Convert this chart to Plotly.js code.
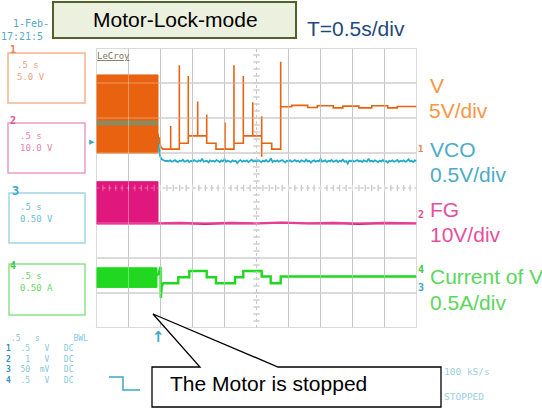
<!DOCTYPE html>
<html><head><meta charset="utf-8">
<script src="https://cdn.plot.ly/plotly-3.0.1.min.js"></script>
<style>html,body{margin:0;padding:0;background:#fff;}#chart{width:542px;height:412px;}</style>
</head><body><div id="chart"></div>
<script>
// Time in seconds (0.5 s/div), amplitude in screen divisions (-4..4)
// Channel 1 (V, orange): dense switching block before the stop
const vBlockT = [0, 0, 0.961, 0.961, 0];
const vBlockY = [1.0, 3.23, 3.23, 1.0, 1.0];
// VCO trace hidden under the orange block
const vcoBandT = [0, 0.958];
const vcoBandY = [1.86, 1.86];
// Channel 1 after the stop
const vT = [0.961,0.972,0.985,1.0,1.034,1.159,1.159,1.159,1.294,1.294,1.294,1.434,1.434,1.434,1.581,1.581,1.581,1.722,1.722,1.722,1.867,1.867,2.008,2.008,2.008,2.148,2.148,2.148,2.294,2.294,2.294,2.441,2.441,2.441,2.581,2.581,2.581,2.581,2.738,2.738,2.878,2.878,2.878,3.05,3.05,3.3,3.3,3.45,3.45,3.7,3.7,3.85,3.85,4.1,4.1,4.3,4.3,4.55,4.55,4.7,4.7,5.0];
const vY = [1.55,1.25,1.45,1.2,1.11,1.11,1.77,1.11,1.11,3.51,1.28,1.28,3.2,1.49,1.49,2.47,1.49,1.49,2.1,1.28,1.28,1.11,1.11,1.87,1.11,1.11,3.51,1.28,1.28,3.2,1.49,1.49,2.45,1.49,1.49,2.05,0.89,1.28,1.28,1.11,1.11,3.61,2.32,2.32,2.36,2.36,2.30,2.30,2.35,2.35,2.29,2.29,2.34,2.34,2.29,2.29,2.35,2.35,2.29,2.29,2.33,2.33];
// Channel 3 (VCO, cyan)
const vcoT = [0.958,0.968,0.978,0.99,1.0,1.02,1.05,1.075,
  1.100,1.125,1.150,1.175,1.200,1.225,1.250,1.275,1.300,1.325,1.350,1.375,1.400,1.425,1.450,1.475,1.500,1.525,1.550,1.575,
  1.600,1.625,1.650,1.675,1.700,1.725,1.750,1.775,1.800,1.825,1.850,1.875,1.900,1.925,1.950,1.975,2.000,2.025,2.050,2.075,
  2.100,2.125,2.150,2.175,2.200,2.225,2.250,2.275,2.300,2.325,2.350,2.375,2.400,2.425,2.450,2.475,2.500,2.525,2.550,2.575,
  2.600,2.625,2.650,2.675,2.700,2.725,2.750,2.775,2.800,2.825,2.850,2.875,2.900,2.925,2.950,2.975,3.000,3.025,3.050,3.075,
  3.100,3.125,3.150,3.175,3.200,3.225,3.250,3.275,3.300,3.325,3.350,3.375,3.400,3.425,3.450,3.475,3.500,3.525,3.550,3.575,
  3.600,3.625,3.650,3.675,3.700,3.725,3.750,3.775,3.800,3.825,3.850,3.875,3.900,3.925,3.950,3.975,4.000,4.025,4.050,4.075,
  4.100,4.125,4.150,4.175,4.200,4.225,4.250,4.275,4.300,4.325,4.350,4.375,4.400,4.425,4.450,4.475,4.500,4.525,4.550,4.575,
  4.600,4.625,4.650,4.675,4.700,4.725,4.750,4.775,4.800,4.825,4.850,4.875,4.900,4.925,4.950,4.975,5.000];
const vcoY = [1.40,1.22,1.06,0.95,0.88,0.82,0.79,0.77,
  0.78,0.76,0.79,0.75,0.77,0.80,0.76,0.74,0.78,0.77,0.81,0.75,0.77,0.79,0.74,0.78,0.76,0.80,0.77,0.75,
  0.79,0.76,0.84,0.75,0.77,0.78,0.73,0.79,0.76,0.78,0.75,0.80,0.77,0.74,0.79,0.76,0.82,0.75,0.78,0.77,
  0.74,0.79,0.76,0.78,0.71,0.77,0.80,0.75,0.78,0.76,0.79,0.74,0.77,0.81,0.76,0.78,0.75,0.79,0.77,0.74,
  0.78,0.76,0.80,0.75,0.77,0.85,0.74,0.78,0.76,0.79,0.75,0.77,0.80,0.76,0.73,0.78,0.77,0.79,0.75,0.77,
  0.80,0.76,0.78,0.74,0.79,0.77,0.75,0.81,0.76,0.78,0.72,0.77,0.79,0.75,0.78,0.76,0.83,0.75,0.77,0.79,
  0.74,0.78,0.76,0.80,0.75,0.77,0.79,0.74,0.78,0.76,0.81,0.75,0.77,0.70,0.78,0.76,0.79,0.75,0.77,0.80,
  0.76,0.78,0.74,0.79,0.77,0.75,0.84,0.76,0.78,0.75,0.79,0.77,0.74,0.78,0.76,0.80,0.75,0.77,0.72,0.78,
  0.76,0.79,0.75,0.77,0.80,0.74,0.78,0.76,0.79,0.75,0.77,0.82,0.76,0.78,0.74,0.79,0.77,0.75,0.78,0.76,0.77];
// Channel 2 (FG, magenta)
const fgBlockT = [0, 0, 0.961, 0.961, 0];
const fgBlockY = [-1.03, 0.18, 0.18, -1.03, -1.03];
const fgT = [0.961,1.3,1.7,2.1,2.5,2.9,3.3,3.7,4.1,4.5,5.0];
const fgY = [-1.01,-1.0,-1.02,-1.0,-1.01,-0.99,-1.01,-1.0,-1.02,-1.0,-1.01];
// Channel 4 (Current of V, green)
const iBlockT = [0, 0, 0.945, 0.945, 0];
const iBlockY = [-2.84, -2.28, -2.28, -2.84, -2.84];
const iT = [0.945,0.97,1.0,1.005,1.02,1.044,1.278,1.278,1.45,1.45,1.722,1.722,1.867,1.867,2.164,2.164,2.294,2.294,2.581,2.581,2.722,2.722,2.878,2.878,5.0];
const iY = [-2.5,-2.45,-2.26,-3.14,-2.8,-2.72,-2.72,-2.55,-2.55,-2.37,-2.37,-2.55,-2.55,-2.72,-2.72,-2.55,-2.55,-2.37,-2.37,-2.53,-2.53,-2.72,-2.72,-2.53,-2.53];

// Scope readout texts
const chanScale = ['.5 s<br>5.0 V', '.5 s<br>10.0 V', '.5 s<br>0.50 V', '.5 s<br>0.50 A'];
const rowNum = ['1', '2', '3', '4'];
const rowVal = ['.5', '\u00a01', '50', '.5'];
const rowUnit = ['\u00a0V', '\u00a0V', 'mV', '\u00a0V'];

const C_V = '#e8620f', C_VCO = '#1fa9c9', C_FG = '#e0177c', C_I = '#1fd81f';

const W = 542, H = 412;
const px = x => x / W;
const py = y => 1 - y / H;

const traces = [
  {x: vBlockT, y: vBlockY, mode: 'lines', fill: 'toself', fillcolor: C_V, line: {color: C_V, width: 1}, hoverinfo: 'skip'},
  {x: fgBlockT, y: fgBlockY, mode: 'lines', fill: 'toself', fillcolor: C_FG, line: {color: C_FG, width: 1}, hoverinfo: 'skip'},
  {x: iBlockT, y: iBlockY, mode: 'lines', fill: 'toself', fillcolor: C_I, line: {color: C_I, width: 1}, hoverinfo: 'skip'},
  {x: vcoBandT, y: vcoBandY, mode: 'lines', line: {color: '#8e8a5e', width: 5}, hoverinfo: 'skip'},
  {x: vcoT, y: vcoY, mode: 'lines', line: {color: C_VCO, width: 1.7}, hoverinfo: 'skip'},
  {x: vT, y: vY, mode: 'lines', line: {color: C_V, width: 1.6}, hoverinfo: 'skip'},
  {x: fgT, y: fgY, mode: 'lines', line: {color: C_FG, width: 2.4}, hoverinfo: 'skip'},
  {x: iT, y: iY, mode: 'lines', line: {color: C_I, width: 2.4}, hoverinfo: 'skip'}
];

const shapes = [];
function addGrid(layer, color) {
  for (let i = 0; i <= 10; i++) {
    const xv = i * 0.5;
    shapes.push({type: 'line', xref: 'x', yref: 'y', x0: xv, x1: xv, y0: -4, y1: 4, layer: layer,
      line: {color: color, width: 1, dash: i === 5 ? 'dot' : 'solid'}});
  }
  for (let j = -4; j <= 4; j++) {
    shapes.push({type: 'line', xref: 'x', yref: 'y', x0: 0, x1: 5, y0: j, y1: j, layer: layer,
      line: {color: color, width: 1, dash: j === 0 ? 'dot' : 'solid'}});
  }
  for (let k = 1; k < 50; k++) {
    const xv = k * 0.1;
    shapes.push({type: 'line', xref: 'x', yref: 'y', x0: xv, x1: xv, y0: -0.09, y1: 0.09, layer: layer, line: {color: color, width: 1}});
  }
  for (let k = -19; k < 20; k++) {
    const yv = k * 0.2;
    shapes.push({type: 'line', xref: 'x', yref: 'y', x0: 2.45, x1: 2.55, y0: yv, y1: yv, layer: layer, line: {color: color, width: 1}});
  }
}
addGrid('below', '#a8a8a8');
addGrid('above', 'rgba(255,255,255,0.35)');

function rectPx(x0, y0, x1, y1, color, fill, w) {
  shapes.push({type: 'rect', xref: 'paper', yref: 'paper', x0: px(x0), x1: px(x1), y0: py(y1), y1: py(y0),
    line: {color: color, width: w || 1.5}, fillcolor: fill || 'rgba(0,0,0,0)', layer: 'above'});
}
function pathPx(pts, close, color, fill, w) {
  let d = pts.map((p, i) => (i ? 'L' : 'M') + px(p[0]).toFixed(5) + ',' + py(p[1]).toFixed(5)).join(' ');
  if (close) d += ' Z';
  shapes.push({type: 'path', xref: 'paper', yref: 'paper', path: d, line: {color: color, width: w || 1.3},
    fillcolor: fill || 'rgba(0,0,0,0)', layer: 'above'});
}
rectPx(53, 2, 296, 38, '#4f6228', '#ebf1de', 2);
const boxCol = ['#f2b48e', '#eb9bc2', '#9fd6e6', '#8ee08e'];
const boxTop = [53, 123, 193, 264];
const boxBot = [103, 173, 243, 315];
for (let b = 0; b < 4; b++) rectPx(b < 2 ? 8 : 9, boxTop[b], 85, boxBot[b], boxCol[b]);
pathPx([[109, 377], [123, 377], [123, 390], [140, 390]], false, '#3aa8c8', null, 1.5);
pathPx([[152, 367], [200, 367], [153, 314], [278, 367], [441, 367], [441, 407], [152, 407]], true, '#000', '#ffffff', 1.3);

const annotations = [];
function A(text, x, y, size, color, opts) {
  opts = opts || {};
  annotations.push(Object.assign({
    text: text, xref: 'paper', yref: 'paper', x: px(x), y: py(y), showarrow: false,
    xanchor: 'left', yanchor: 'middle', align: 'left', borderpad: 0,
    font: {family: opts.family || 'Liberation Sans, Arial, sans-serif', size: size, color: color}
  }, opts.extra || {}));
}
const MONO = 'DejaVu Sans Mono, monospace';
const NB = '\u00a0';
A('Motor-Lock-mode', 175, 20, 21, '#000', {extra: {xanchor: 'center'}});
A('T=0.5s/div', 306, 29, 21, '#1f497d');
A('V', 429, 85, 21, '#f79646');
A('5V/div', 428, 110, 21, '#f79646');
A('VCO', 429, 149.5, 21, '#4bacc6');
A('0.5V/div', 429, 175, 21, '#4bacc6');
A('FG', 429, 209.5, 21, '#e5509e');
A('10V/div', 429, 234.5, 21, '#e5509e');
A('Current of V', 429, 276.5, 21, '#5cd65c');
A('0.5A/div', 429, 302, 21, '#5cd65c');
A('The Motor is stopped', 169, 383, 21, '#000');

// scope screen texts
A(NB + NB + '1-Feb-<br>17:21:5', 0, 30, 10, '#55aac0', {family: MONO});
const numCol = ['#e8804a', '#e0508f', '#3ea9c6', '#3cc83c'];
const txtCol = ['#eea27a', '#e77fb0', '#6cc0d6', '#6ad46a'];
const numY = [49, 121, 191, 265];
const txtX = [16, 19, 19, 19];
const txtY = [71, 141.5, 213, 282];
for (let b = 0; b < 4; b++) {
  A('<b>' + rowNum[b] + '</b>', b === 2 ? 11 : 9, numY[b], b === 2 ? 12 : 10, numCol[b], {family: MONO});
  A(chanScale[b], txtX[b], txtY[b], 9, txtCol[b], {family: MONO});
}
A('<u>LeCroy</u>', 96, 56, 9, '#857468', {family: MONO});

let block = NB + '.5' + NB + NB + NB + 's' + NB.repeat(7) + 'BWL';
for (let r = 0; r < 4; r++) {
  block += '<br><span style="color:#2f8fbf"><b>' + rowNum[r] + '</b></span>' + NB + NB + rowVal[r] + NB + NB + rowUnit[r] + NB + NB + NB + 'DC';
}
A(block, 5, 359.5, 8, '#86c8da', {family: MONO});
A('100 kS/s<br><br>STOPPED', 443, 383.5, 9.5, '#9ccfdc', {family: MONO});

// channel markers
A('<b>1</b>', 417, 149, 9, '#e8804a', {family: MONO});
A('<b>2</b>', 417, 214, 10, '#e0508f', {family: MONO});
A('<b>4</b>', 417, 269, 10, '#3cc83c', {family: MONO});
A('<b>3</b>', 417, 287, 10, '#3ea9c6', {family: MONO});
A('▶', 88, 142, 7, '#3ea9c6', {family: 'DejaVu Sans'});
A('<b>↑</b>', 158, 337, 15, '#3ea9c6', {family: 'DejaVu Sans', extra: {xanchor: 'center'}});

const layout = {
  width: W, height: H, margin: {l: 0, r: 0, t: 0, b: 0},
  paper_bgcolor: '#fff', plot_bgcolor: '#fff', showlegend: false,
  xaxis: {domain: [96.5 / W, 416.5 / W], range: [0, 5], showgrid: false, zeroline: false,
    showticklabels: false, ticks: '', showline: false, fixedrange: true},
  yaxis: {domain: [py(328), py(48)], range: [-4, 4], showgrid: false, zeroline: false,
    showticklabels: false, ticks: '', showline: false, fixedrange: true},
  shapes: shapes, annotations: annotations
};
Plotly.newPlot('chart', traces, layout, {displayModeBar: false, staticPlot: true});
</script></body></html>
